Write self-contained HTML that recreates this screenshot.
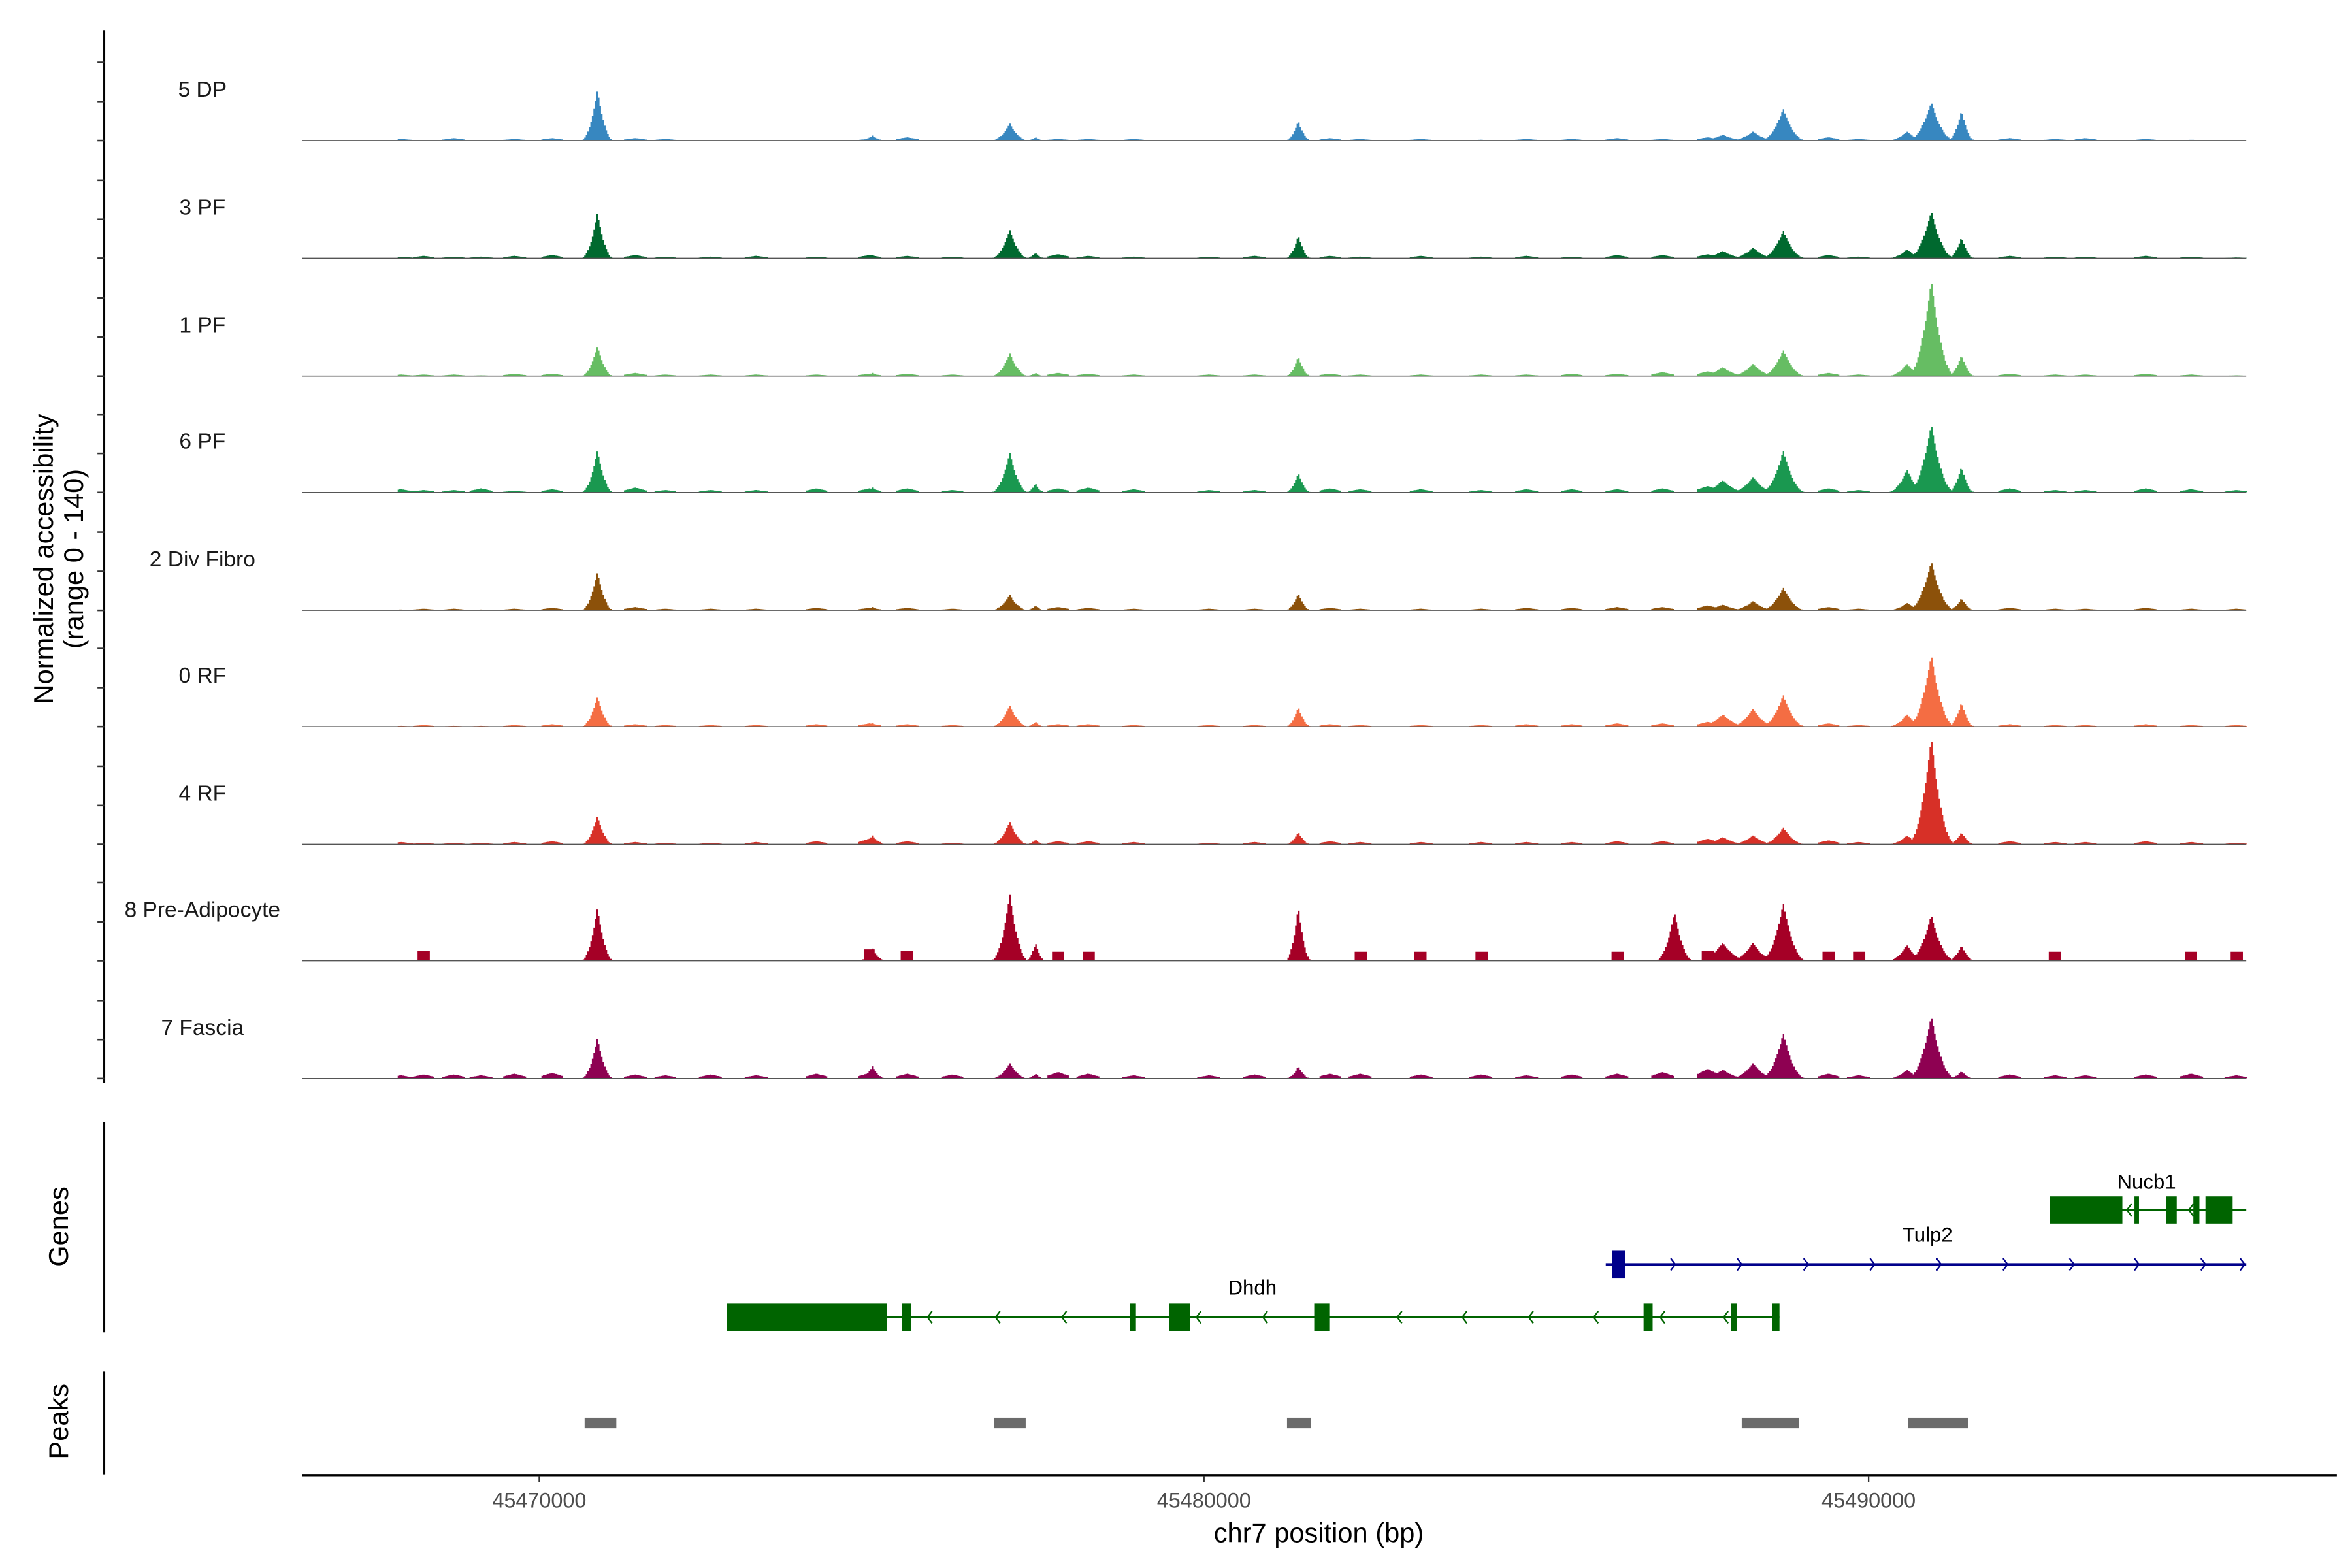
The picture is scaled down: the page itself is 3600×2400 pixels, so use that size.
<!DOCTYPE html>
<html><head><meta charset="utf-8"><style>
html,body{margin:0;padding:0;background:#fff;}
svg{display:block;font-family:"Liberation Sans",Arial,sans-serif;}
</style></head><body>
<svg id="chart" width="3600" height="2400" viewBox="0 0 1557 1038" xmlns="http://www.w3.org/2000/svg">
<rect x="0" y="0" width="1557" height="1038" fill="#fff"/>
<g id="tracks"></g>
<g id="genes"></g>
<g id="peaks"></g>
<g id="axes"></g>
</svg>
<script>
// ---- data ----
const trackNames = ["5 DP","3 PF","1 PF","6 PF","2 Div Fibro","0 RF","4 RF","8 Pre-Adipocyte","7 Fascia"];
const trackColors = ["#3787c0","#00692f","#66bd63","#1a9850","#8c510a","#f46d43","#d73027","#a50026","#8e0152"];
const peakPos = [45470864,45477068,45481409,45487068,45487795,45488250,45488705,45490568,45490932,45491386,45475000,45477455];
const peakWidth = [260,300,210,300,420,380,360,320,380,220,220,160];
const h_5DP = [62,21,24,0,7,11,39,11,47,37,6,4];
const h_3PF = [56,35,28,0,9,13,34,11,58,26,4,7];
const h_1PF = [37,28,24,0,11,15,32,15,118,26,4,4];
const h_6PF = [52,49,24,0,15,19,52,28,84,32,6,11];
const h_2Div = [47,19,21,0,7,11,28,9,60,15,4,6];
const h_0RF = [37,26,24,0,15,22,39,15,88,30,4,6];
const h_4RF = [35,28,15,0,9,11,21,11,131,15,11,6];
const h_8Pre = [65,82,67,60,22,22,71,19,56,19,15,22];
const h_7Fas = [50,19,15,0,11,19,56,11,77,9,15,6];
const bgPos = [45467909,45468250,45468705,45469114,45469614,45470182,45471432,45471886,45472568,45473250,45474159,45474955,45475523,45476205,45477795,45478250,45478932,45480068,45480750,45481886,45482341,45483250,45484159,45484841,45485523,45486205,45486886,45487568,45489386,45489841,45492114,45492795,45493250,45494159,45494841,45495523];
const bg_5DP = [2,0,3,0,2,3,3,2,0,0,0,2,4,0,2,2,2,0,0,3,2,2,1,2,2,3,2,4,4,2,3,2,3,2,1,0];
const bg_3PF = [2,3,2,2,3,4,4,2,2,3,2,4,3,2,5,3,2,2,3,3,2,3,2,3,2,4,4,5,4,2,3,2,2,3,2,1];
const bg_1PF = [2,2,2,1,3,3,4,2,2,2,2,3,3,2,4,3,2,2,2,3,2,2,2,2,3,3,5,6,4,2,3,2,2,3,2,1];
const bg_6PF = [4,3,3,5,2,4,6,3,3,3,5,5,5,3,5,6,4,3,3,5,4,4,3,4,4,4,5,8,5,3,5,3,3,5,4,3];
const bg_2Div = [1,2,2,1,2,3,4,2,2,2,3,3,3,2,4,3,2,2,2,3,2,2,2,3,3,4,4,6,4,2,3,2,2,3,2,2];
const bg_0RF = [1,2,1,1,2,3,3,2,2,2,3,4,3,2,3,3,2,2,2,3,2,2,2,3,3,4,4,6,4,2,3,2,2,3,2,2];
const bg_4RF = [3,2,2,2,3,4,3,2,2,3,4,7,4,2,4,4,3,2,3,4,3,3,3,3,3,4,4,7,5,3,4,3,3,4,3,2];
const bg_8Pre = [0,12,0,0,0,0,0,0,0,0,0,14,12,0,11,11,0,0,0,0,11,11,11,0,0,11,0,12,11,11,0,11,0,0,11,11];
const bg_7Fas = [4,5,5,4,6,7,5,4,5,4,6,7,6,5,8,6,4,4,5,6,6,5,5,4,5,6,8,12,6,4,5,4,4,5,6,4];
const trackHeights = [h_5DP,h_3PF,h_1PF,h_6PF,h_2Div,h_0RF,h_4RF,h_8Pre,h_7Fas];
const trackBg = [bg_5DP,bg_3PF,bg_1PF,bg_6PF,bg_2Div,bg_0RF,bg_4RF,bg_8Pre,bg_7Fas];
const xTicks = [45470000,45480000,45490000];
const xTickLabels = ["45470000","45480000","45490000"];
const dhdhExons = [[45472818,45475227],[45475455,45475591],[45478886,45478977],[45479477,45479795],[45481659,45481886],[45486614,45486750],[45487932,45488023],[45488545,45488659]];
const tulp2Exons = [[45486136,45486341]];
const nucb1Exons = [[45492727,45493818],[45494000,45494068],[45494477,45494636],[45494886,45494977],[45495068,45495477]];
const peakRegions = [[45470682,45471159],[45476841,45477318],[45481250,45481614],[45488091,45488955],[45490591,45491500]];

// ---- scales ----
const NS = "http://www.w3.org/2000/svg";
const xs = bp => 357 + (bp - 45470000) * 0.044;
const baselines = [93,171,249,326,404,481,559,636,714];
const yUnit = 75.5 / 140;
const dataStart = 45467870, dataEnd = 45495682;
function mk(tag, attrs, parent){const e=document.createElementNS(NS,tag);for(const k in attrs)e.setAttribute(k,attrs[k]);parent.appendChild(e);return e;}

const tracksG = document.getElementById('tracks');
trackNames.forEach((name,ti)=>{
  const g = mk('g',{},tracksG);
  
  
  const b = baselines[ti], hs = trackHeights[ti], bgs = trackBg[ti];
  const step = 23;
  let d = '';
  let open = false;
  for(let bp=dataStart; bp<=dataEnd; bp+=step){
    let v = 0;
    for(let i=0;i<peakPos.length;i++){
      const r = Math.abs(bp-peakPos[i])/peakWidth[i];
      if(r<1) v = Math.max(v, hs[i]*Math.pow(1-r,2.2));
    }
    for(let i=0;i<bgPos.length;i++){
      const r = Math.abs(bp-bgPos[i])/(ti===7?90:170);
      if(r<1){ const bv = ti===7 ? bgs[i] : bgs[i]*(1-r*0.6); v = Math.max(v, bv); }
    }
    const x0 = xs(bp), x1 = xs(bp+step);
    const y = b - v*yUnit;
    if(v>0.4){
      if(!open){ d += 'M'+x0.toFixed(2)+','+b; open=true; }
      d += 'L'+x0.toFixed(2)+','+y.toFixed(2)+'L'+x1.toFixed(2)+','+y.toFixed(2);
    } else if(open){ d += 'L'+x0.toFixed(2)+','+b+'Z'; open=false; }
  }
  if(open) d += 'L'+xs(dataEnd).toFixed(2)+','+b+'Z';
  const area = mk('path',{d:d,fill:trackColors[ti]},g);
  
  
  const base = mk('line',{x1:200,x2:1487,y1:b,y2:b,stroke:'#555','stroke-width':0.7},g);
  
  
  const lab = mk('text',{x:134,y:b-29,'text-anchor':'middle','font-size':14.5,fill:'#1a1a1a'},g);
  lab.textContent = name;
  
  
});

// ---- axes ----
const axesG = document.getElementById('axes');
const yAx = mk('line',{x1:69,x2:69,y1:20,y2:717,stroke:'#000','stroke-width':1.3},axesG);


baselines.forEach(b=>{
  [0,25.8,51.7].forEach(o=>{
    const t = mk('line',{x1:64.5,x2:69,y1:b-o,y2:b-o,stroke:'#333','stroke-width':1.1},axesG);
    
    
  });
});
const yt = mk('text',{transform:'translate(35,370) rotate(-90)','text-anchor':'middle','font-size':18,fill:'#000'},axesG);
yt.textContent = 'Normalized accessibility';


const yt2 = mk('text',{transform:'translate(55,370) rotate(-90)','text-anchor':'middle','font-size':18,fill:'#000'},axesG);
yt2.textContent = '(range 0 - 140)';


const gAx = mk('line',{x1:69,x2:69,y1:743,y2:882,stroke:'#000','stroke-width':1.3},axesG);


const gl = mk('text',{transform:'translate(45,812) rotate(-90)','text-anchor':'middle','font-size':18,fill:'#000'},axesG);
gl.textContent = 'Genes';


const pAx = mk('line',{x1:69,x2:69,y1:908,y2:976,stroke:'#000','stroke-width':1.3},axesG);


const pl = mk('text',{transform:'translate(45,941) rotate(-90)','text-anchor':'middle','font-size':18,fill:'#000'},axesG);
pl.textContent = 'Peaks';


const xAx = mk('line',{x1:200,x2:1547,y1:976.5,y2:976.5,stroke:'#000','stroke-width':1.5},axesG);


xTicks.forEach((v,i)=>{
  const t = mk('line',{x1:xs(v),x2:xs(v),y1:977,y2:981,stroke:'#333','stroke-width':1},axesG);
  
  
  const l = mk('text',{x:xs(v),y:998,'text-anchor':'middle','font-size':14,fill:'#4d4d4d'},axesG);
  l.textContent = xTickLabels[i];
  
  
});
const xt = mk('text',{x:873,y:1021,'text-anchor':'middle','font-size':18,fill:'#000'},axesG);
xt.textContent = 'chr7 position (bp)';



// ---- genes ----
const genesG = document.getElementById('genes');
function drawGene(name, exons, start, end, y, color, strand, arrowXs, labelX, labelY){
  const g = mk('g',{},genesG);
  
  
  mk('line',{x1:xs(start),x2:xs(end),y1:y,y2:y,stroke:color,'stroke-width':1.6},g);
  arrowXs.forEach(ax=>{
    const dx = strand>0 ? 3 : -3;
    mk('path',{d:'M'+(ax-dx)+','+(y-4)+'L'+ax+','+y+'L'+(ax-dx)+','+(y+4),fill:'none',stroke:color,'stroke-width':1},g);
  });
  exons.forEach(e=>{
    const x0 = xs(e[0]), w = Math.max(xs(e[1])-x0, 2.5);
    const r = mk('rect',{x:x0,y:y-9,width:w,height:18,fill:color},g);
    
    
  });
  const t = mk('text',{x:labelX,y:labelY,'text-anchor':'middle','font-size':13.5,fill:'#000'},g);
  t.textContent = name;
  
  
}
drawGene('Nucb1', nucb1Exons, 45492727, 45495682, 801, '#006400', -1, [1408,1449], 1421, 787);
drawGene('Tulp2', tulp2Exons, 45486045, 45495682, 837, '#00008b', 1, [1109,1153,1197,1241,1285,1329,1373,1416,1460,1486], 1276, 822);
drawGene('Dhdh', dhdhExons, 45472818, 45488659, 872, '#006400', -1, [614,659,703,792,836,925,968,1012,1055,1099,1141], 829, 857);

// ---- peaks ----
const peaksG = document.getElementById('peaks');
peakRegions.forEach(p=>{
  const r = mk('rect',{x:xs(p[0]),y:938.5,width:xs(p[1])-xs(p[0]),height:7,fill:'#6b6b6b'},peaksG);
  
  
});
</script>
</body></html>
